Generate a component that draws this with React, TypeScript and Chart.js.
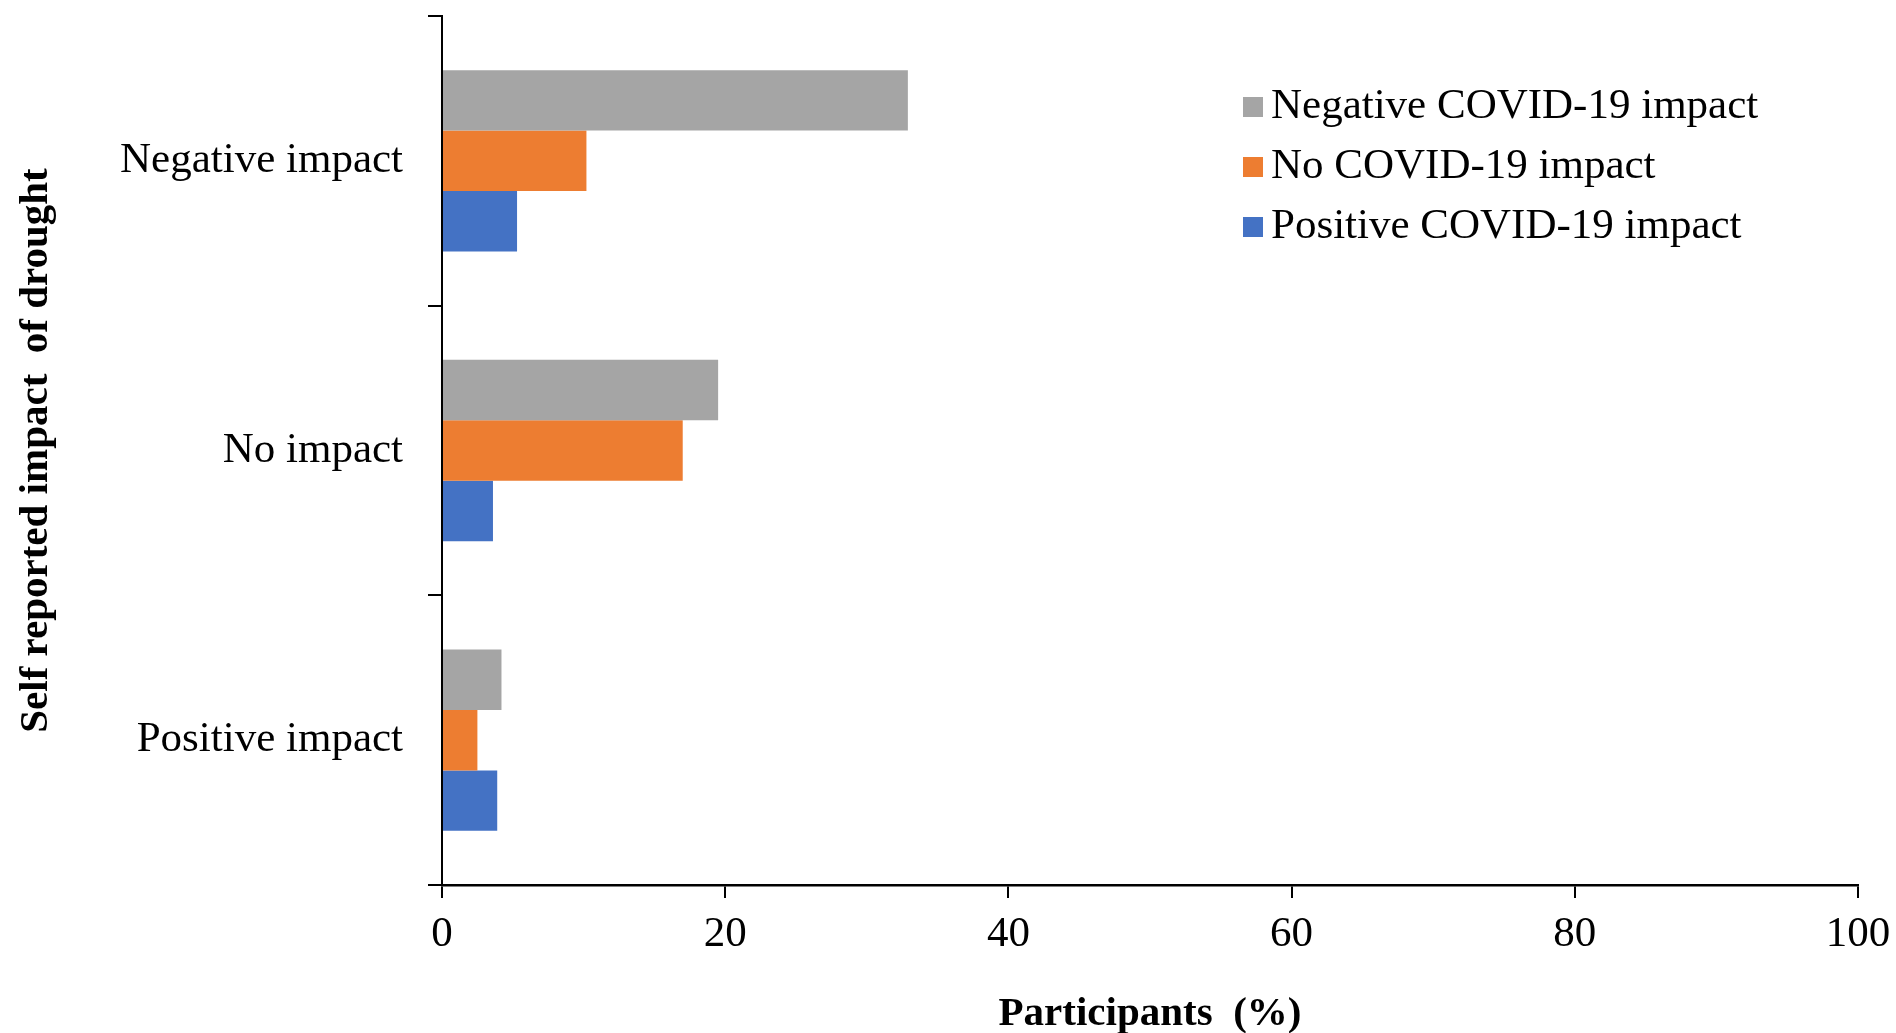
import { useEffect, useRef } from "react"
import { Chart, registerables } from "chart.js"

Chart.register(...registerables)

const categories = ["Negative impact", "No impact", "Positive impact"]
const seriesLabels = ["Negative COVID-19 impact", "No COVID-19 impact", "Positive COVID-19 impact"]
const negativeCovid = [32.9, 19.5, 4.2]
const noCovid = [10.2, 17.0, 2.5]
const positiveCovid = [5.3, 3.6, 3.9]
const xTicks = [0, 20, 40, 60, 80, 100]
const colors = ["#A5A5A5", "#ED7D31", "#4472C4"]

const serif = '"Liberation Serif", "Times New Roman", serif'

// legend sits inside the plot area, top right
const insideLegend = {
  id: "insideLegend",
  afterDraw(chart: Chart) {
    const { ctx, chartArea } = chart
    ctx.save()
    ctx.font = `43px ${serif}`
    ctx.textBaseline = "middle"
    ctx.textAlign = "left"
    chart.data.datasets.forEach((ds, i) => {
      const y = chartArea.top + 91 + i * 60
      const x = chartArea.left + 801
      ctx.fillStyle = ds.backgroundColor as string
      ctx.fillRect(x, y - 10, 20, 20)
      ctx.fillStyle = "#000"
      ctx.fillText(ds.label || "", x + 28, y)
    })
    ctx.restore()
  },
}

export default function App() {
  const chartRef = useRef<HTMLCanvasElement>(null)
  const chartInstance = useRef<Chart | null>(null)

  useEffect(() => {
    if (!chartRef.current) return
    if (chartInstance.current) chartInstance.current.destroy()

    const ctx = chartRef.current.getContext("2d")
    if (!ctx) return

    const values = [negativeCovid, noCovid, positiveCovid]

    chartInstance.current = new Chart(ctx, {
      type: "bar",
      data: {
        labels: categories,
        datasets: seriesLabels.map((label, i) => ({
          label,
          data: values[i],
          backgroundColor: colors[i],
          borderWidth: 0,
          categoryPercentage: 0.626,
          barPercentage: 1.0,
        })),
      },
      options: {
        indexAxis: "y",
        animation: false,
        responsive: true,
        maintainAspectRatio: false,
        layout: { padding: { top: 16, right: 38, bottom: 0, left: 12 } },
        plugins: {
          legend: { display: false },
          tooltip: { enabled: false },
        },
        scales: {
          x: {
            min: 0,
            max: 100,
            afterBuildTicks: (scale) => {
              scale.ticks = xTicks.map((v) => ({ value: v }))
            },
            afterFit: (scale) => {
              scale.height = 148
              scale.paddingLeft = 0
              scale.paddingRight = 0
            },
            grid: {
              drawOnChartArea: false,
              tickLength: 13,
              color: "#000",
              lineWidth: 2,
            },
            border: { display: true, color: "#000", width: 2.5 },
            ticks: {
              color: "#000",
              padding: 11,
              font: { family: serif, size: 43 },
            },
            title: {
              display: true,
              text: "Participants  (%)",
              color: "#000",
              padding: { top: 0, bottom: -2 },
              font: { family: serif, size: 41, weight: "bold", lineHeight: 1 },
            },
          },
          y: {
            afterFit: (scale) => {
              scale.width = 430
              scale.paddingTop = 0
              scale.paddingBottom = 0
            },
            grid: {
              drawOnChartArea: false,
              offset: true,
              tickLength: 14,
              color: "#000",
              lineWidth: 2,
            },
            border: { display: true, color: "#000", width: 2 },
            ticks: {
              color: "#000",
              padding: 25,
              font: { family: serif, size: 43 },
            },
            title: {
              display: true,
              text: "Self reported impact  of drought",
              color: "#000",
              padding: { top: 0, bottom: 0 },
              font: { family: serif, size: 41, weight: "bold" },
            },
          },
        },
      },
      plugins: [insideLegend],
    })

    return () => {
      if (chartInstance.current) {
        chartInstance.current.destroy()
        chartInstance.current = null
      }
    }
  }, [])

  return (
    <div style={{ position: "absolute", left: 0, top: 0, width: 1896, height: 1033, background: "#fff" }}>
      <canvas ref={chartRef} />
    </div>
  )
}
